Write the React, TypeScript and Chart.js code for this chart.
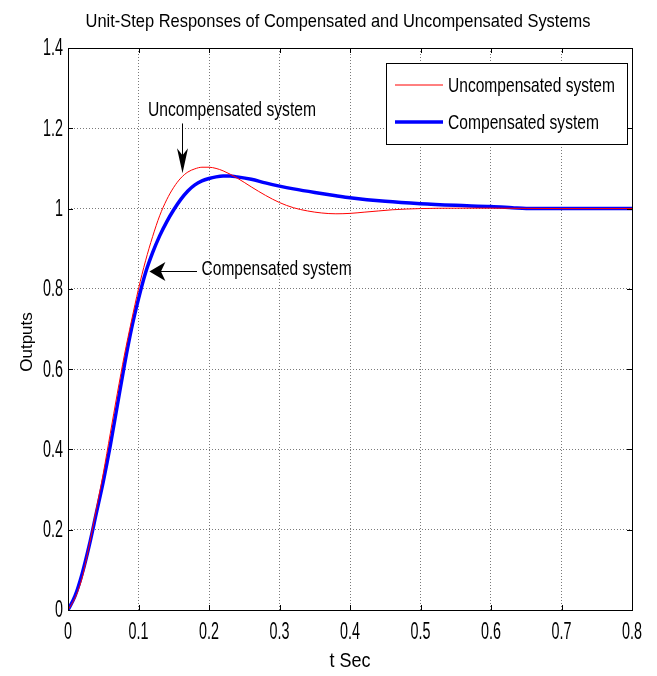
import React, { useEffect, useRef } from "react";
import { Chart, registerables } from "chart.js";

Chart.register(...registerables);

const chartTitle = "Unit-Step Responses of Compensated and Uncompensated Systems";
const xAxisTitle = "t Sec";
const yAxisTitle = "Outputs";
const seriesLabels = ["Uncompensated system", "Compensated system"];

const xTicks = [0, 0.1, 0.2, 0.3, 0.4, 0.5, 0.6, 0.7, 0.8];
const yTicks = [0, 0.2, 0.4, 0.6, 0.8, 1, 1.2, 1.4];
const xTickLabels = ["0", "0.1", "0.2", "0.3", "0.4", "0.5", "0.6", "0.7", "0.8"];
const yTickLabels = ["0", "0.2", "0.4", "0.6", "0.8", "1", "1.2", "1.4"];

const uncompT = [0, 0.01, 0.02, 0.03, 0.04, 0.05, 0.06, 0.07, 0.08, 0.09, 0.1, 0.11, 0.12, 0.13, 0.14, 0.15, 0.16, 0.17, 0.18, 0.19, 0.2, 0.21, 0.22, 0.24, 0.26, 0.28, 0.3, 0.32, 0.34, 0.36, 0.38, 0.4, 0.42, 0.44, 0.46, 0.5, 0.55, 0.6, 0.7, 0.8];
const uncompY = [0, 0.03, 0.08, 0.16, 0.25, 0.34, 0.44, 0.54, 0.635, 0.72, 0.8, 0.87, 0.93, 0.982, 1.022, 1.053, 1.076, 1.091, 1.099, 1.103, 1.103, 1.1, 1.094, 1.076, 1.054, 1.033, 1.015, 1.002, 0.994, 0.989, 0.987, 0.988, 0.991, 0.994, 0.997, 1.0, 1.001, 1.001, 1.0, 1.0];

const compT = [0, 0.01, 0.02, 0.03, 0.04, 0.05, 0.06, 0.07, 0.08, 0.09, 0.1, 0.11, 0.12, 0.13, 0.14, 0.15, 0.16, 0.17, 0.18, 0.19, 0.2, 0.21, 0.22, 0.23, 0.24, 0.26, 0.28, 0.3, 0.32, 0.35, 0.38, 0.4, 0.45, 0.5, 0.55, 0.6, 0.63, 0.65, 0.7, 0.8];
const compY = [0, 0.035, 0.09, 0.16, 0.24, 0.32, 0.41, 0.51, 0.61, 0.7, 0.775, 0.84, 0.89, 0.932, 0.967, 0.997, 1.023, 1.044, 1.059, 1.069, 1.075, 1.079, 1.081, 1.081, 1.079, 1.073, 1.064, 1.056, 1.049, 1.04, 1.032, 1.027, 1.018, 1.012, 1.008, 1.005, 1.002, 1.0, 1.0, 1.0];

const SANS = '"Liberation Sans", Arial, "Noto Sans", sans-serif';

function fitText(
  ctx: CanvasRenderingContext2D,
  text: string,
  x: number,
  y: number,
  size: number,
  width: number | null,
  align: CanvasTextAlign,
  scaleX = 1
) {
  ctx.save();
  ctx.font = `${size}px ${SANS}`;
  let sx = scaleX;
  if (width) {
    const w = ctx.measureText(text).width;
    sx = width / w;
  }
  ctx.translate(x, y);
  ctx.scale(sx, 1);
  ctx.textAlign = align;
  ctx.textBaseline = "middle";
  ctx.fillText(text, 0, 0);
  ctx.restore();
}

function drawArrowHead(ctx: CanvasRenderingContext2D, tipX: number, tipY: number, dx: number, dy: number, len: number, half: number) {
  const px = -dy, py = dx;
  const bx = tipX - dx * len, by = tipY - dy * len;
  const nx = tipX - dx * len * 0.72, ny = tipY - dy * len * 0.72;
  ctx.beginPath();
  ctx.moveTo(tipX, tipY);
  ctx.lineTo(bx + px * half, by + py * half);
  ctx.lineTo(nx, ny);
  ctx.lineTo(bx - px * half, by - py * half);
  ctx.closePath();
  ctx.fill();
}

const TICK_SIZE = 23.5;
const TICK_SCALE = 0.61;

const decorPlugin = {
  id: "decor",
  afterDraw(chart: any) {
    const ctx: CanvasRenderingContext2D = chart.ctx;
    const { left, right, top, bottom } = chart.chartArea;
    const xs = chart.scales.x;
    const ys = chart.scales.y;
    ctx.save();
    // box
    ctx.strokeStyle = "#000";
    ctx.lineWidth = 1;
    ctx.setLineDash([]);
    ctx.strokeRect(Math.round(left) + 0.5, Math.round(top) + 0.5, Math.round(right - left), Math.round(bottom - top));
    // inner ticks
    ctx.beginPath();
    const tl = 5;
    xTicks.forEach((v) => {
      const x = Math.round(xs.getPixelForValue(v)) + 0.5;
      ctx.moveTo(x, bottom); ctx.lineTo(x, bottom - tl);
      ctx.moveTo(x, top); ctx.lineTo(x, top + tl);
    });
    yTicks.forEach((v) => {
      const y = Math.round(ys.getPixelForValue(v)) + 0.5;
      ctx.moveTo(left, y); ctx.lineTo(left + tl, y);
      ctx.moveTo(right, y); ctx.lineTo(right - tl, y);
    });
    ctx.stroke();

    ctx.fillStyle = "#000";
    // tick labels
    xTicks.forEach((v, i) => {
      fitText(ctx, xTickLabels[i], xs.getPixelForValue(v), bottom + 23, TICK_SIZE, null, "center", TICK_SCALE);
    });
    yTicks.forEach((v, i) => {
      fitText(ctx, yTickLabels[i], left - 5, ys.getPixelForValue(v) + 1, TICK_SIZE, null, "right", TICK_SCALE);
    });

    // title
    fitText(ctx, chartTitle, 338, 22, 18.5, 505, "center");
    // x title
    fitText(ctx, xAxisTitle, (left + right) / 2, 661, 21, 41, "center");
    // y title
    ctx.save();
    ctx.translate(27, 342);
    ctx.rotate(-Math.PI / 2);
    ctx.font = `17px ${SANS}`;
    ctx.textAlign = "center";
    ctx.textBaseline = "middle";
    ctx.fillText(yAxisTitle, 0, 0);
    ctx.restore();

    // legend
    const lx = 386, ly = 63, lw = 241, lh = 81;
    ctx.fillStyle = "#fff";
    ctx.fillRect(lx, ly, lw, lh);
    ctx.strokeStyle = "#000";
    ctx.lineWidth = 1;
    ctx.strokeRect(lx + 0.5, ly + 0.5, lw, lh);
    const ds = chart.data.datasets;
    const rows = [85, 122];
    const legendW = [167, 151];
    ds.forEach((d: any, i: number) => {
      ctx.strokeStyle = d.borderColor;
      ctx.lineWidth = d.borderWidth;
      ctx.beginPath();
      ctx.moveTo(395, rows[i]);
      ctx.lineTo(443, rows[i]);
      ctx.stroke();
      ctx.fillStyle = "#000";
      fitText(ctx, d.label, 448, rows[i] + 1, 21, legendW[i], "left");
    });

    // annotations
    ctx.fillStyle = "#000";
    ctx.strokeStyle = "#000";
    ctx.lineWidth = 1;
    // Uncompensated
    fitText(ctx, seriesLabels[0], xs.getPixelForValue(0.1135), ys.getPixelForValue(1.244), 21, 168, "left");
    const ax = Math.round(xs.getPixelForValue(0.162)) + 0.5;
    const aTop = ys.getPixelForValue(1.212);
    const aTip = ys.getPixelForValue(1.088);
    ctx.beginPath();
    ctx.moveTo(ax, aTop);
    ctx.lineTo(ax, aTip - 10);
    ctx.stroke();
    drawArrowHead(ctx, ax, aTip, 0, 1, 25, 5.5);
    // Compensated
    fitText(ctx, seriesLabels[1], xs.getPixelForValue(0.1895), ys.getPixelForValue(0.848), 21, 150, "left");
    const tipX = xs.getPixelForValue(0.1155);
    const tailX = xs.getPixelForValue(0.183);
    const ay = Math.round(ys.getPixelForValue(0.845)) + 0.5;
    ctx.beginPath();
    ctx.moveTo(tailX, ay);
    ctx.lineTo(tipX + 8, ay);
    ctx.stroke();
    drawArrowHead(ctx, tipX, ay, -1, 0, 16, 9.5);
    ctx.restore();
  },
};

export default function App() {
  const ref = useRef<HTMLCanvasElement | null>(null);
  useEffect(() => {
    if (!ref.current) return;
    const chart = new Chart(ref.current, {
      type: "line",
      data: {
        datasets: [
          {
            label: seriesLabels[0],
            data: uncompT.map((t, i) => ({ x: t, y: uncompY[i] })),
            borderColor: "#ff0000",
            borderWidth: 1,
            pointRadius: 0,
            cubicInterpolationMode: "monotone",
            fill: false,
          },
          {
            label: seriesLabels[1],
            data: compT.map((t, i) => ({ x: t, y: compY[i] })),
            borderColor: "#0000ff",
            borderWidth: 3.5,
            pointRadius: 0,
            cubicInterpolationMode: "monotone",
            fill: false,
          },
        ],
      },
      options: {
        animation: false,
        responsive: false,
        layout: { padding: { left: 0, right: 25, top: 48, bottom: 0 } },
        plugins: { legend: { display: false }, tooltip: { enabled: false }, title: { display: false } },
        scales: {
          x: {
            type: "linear",
            min: 0,
            max: 0.8,
            afterFit: (s: any) => { s.height = 66; },
            afterBuildTicks: (s: any) => { s.ticks = xTicks.map((v) => ({ value: v })); },
            grid: { color: "#7a7a7a", lineWidth: 1, drawTicks: false },
            border: { display: false, dash: [1, 2] },
            ticks: { display: false },
          },
          y: {
            type: "linear",
            min: 0,
            max: 1.4,
            afterFit: (s: any) => { s.width = 68; },
            afterBuildTicks: (s: any) => { s.ticks = yTicks.map((v) => ({ value: v })); },
            grid: { color: "#7a7a7a", lineWidth: 1, drawTicks: false },
            border: { display: false, dash: [1, 2] },
            ticks: { display: false },
          },
        },
      },
      plugins: [decorPlugin],
    } as any);
    return () => chart.destroy();
  }, []);
  return (
    <div style={{ position: "fixed", left: 0, top: 0, width: 657, height: 676, background: "#fff" }}>
      <canvas ref={ref} width={657} height={676} style={{ display: "block" }} />
    </div>
  );
}
